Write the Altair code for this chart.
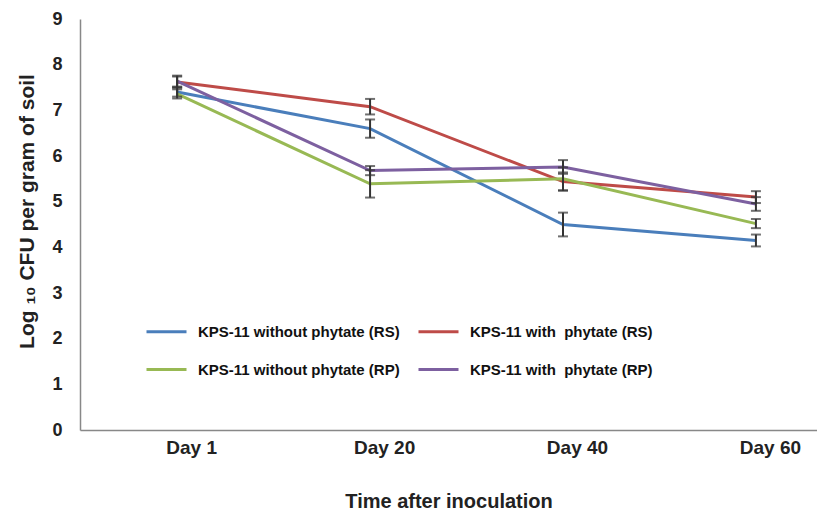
import altair as alt
import pandas as pd

days = ["Day 1", "Day 20", "Day 40", "Day 60"]
series = [
    "KPS-11 without phytate (RS)",
    "KPS-11 with\u00a0 phytate (RS)",
    "KPS-11 without phytate (RP)",
    "KPS-11 with\u00a0 phytate (RP)",
]
colors = ["#4a7ebb", "#be4b48", "#98b954", "#7d60a0"]

blue_rs = [7.40, 6.60, 4.50, 4.15]
red_rs = [7.62, 7.08, 5.44, 5.10]
green_rp = [7.36, 5.39, 5.50, 4.52]
purple_rp = [7.64, 5.68, 5.76, 4.95]

blue_err = [0.10, 0.20, 0.26, 0.13]
red_err = [0.12, 0.17, 0.20, 0.13]
green_err = [0.10, 0.30, 0.25, 0.10]
purple_err = [0.12, 0.10, 0.15, 0.15]

rows = []
for name, vals, errs in zip(series, [blue_rs, red_rs, green_rp, purple_rp],
                            [blue_err, red_err, green_err, purple_err]):
    for d, v, e in zip(days, vals, errs):
        rows.append({"day": d, "series": name, "value": v, "lo": v - e, "hi": v + e})
df = pd.DataFrame(rows)

font = "Liberation Sans"
y_title = "Log \u2081\u2080 CFU per gram of soil"

x_enc = alt.X(
    "day:N",
    sort=days,
    scale=alt.Scale(type="point", padding=0.41, align=0.614),
    axis=alt.Axis(
        title="Time after inoculation",
        labelAngle=0,
        labelFont=font, labelFontSize=19, labelFontWeight="bold", labelColor="#222",
        labelPadding=8, labelOffset=14,
        titleFont=font, titleFontSize=20, titleFontWeight="bold", titleColor="#222",
        titlePadding=34,
        ticks=False, domainColor="#888", domainWidth=1.5, grid=False,
    ),
)

y_scale = alt.Scale(domain=[0, 9])
y_axis = alt.Axis(
    title=y_title,
    values=list(range(10)),
    labelFont=font, labelFontSize=18, labelFontWeight="bold", labelColor="#222",
    labelPadding=18,
    titleFont=font, titleFontSize=21, titleFontWeight="bold", titleColor="#222",
    titlePadding=14, titleY=192,
    ticks=False, domainColor="#888", domainWidth=1.5, grid=False,
)

lines = alt.Chart(df).mark_line(strokeWidth=3).encode(
    x=x_enc,
    y=alt.Y("value:Q", scale=y_scale, axis=y_axis),
    color=alt.Color(
        "series:N",
        sort=series,
        scale=alt.Scale(domain=series, range=colors),
        legend=alt.Legend(
            title=None,
            orient="none",
            legendX=65,
            legendY=291,
            columns=2,
            direction="horizontal",
            symbolType="stroke",
            symbolSize=1600,
            symbolStrokeWidth=3,
            labelFont=font, labelFontSize=15, labelFontWeight="bold", labelColor="#111",
            labelOffset=10,
            rowPadding=8,
            columnPadding=12,
            labelLimit=400,
        ),
    ),
)

errs = alt.Chart(df).mark_errorbar(
    ticks={"size": 10, "thickness": 2},
    rule={"strokeWidth": 2},
).encode(
    x=alt.X("day:N", sort=days),
    y=alt.Y("lo:Q", scale=y_scale, title=y_title),
    y2="hi:Q",
    color=alt.value("#333333"),
)

chart = alt.layer(lines, errs).properties(
    width=737,
    height=411,
    autosize=alt.AutoSizeParams(type="none"),
    padding={"left": 72, "top": 11, "right": 0, "bottom": 80},
).configure_view(stroke=None)

chart.save("out.html", embed_options={"renderer": "svg", "actions": False})
